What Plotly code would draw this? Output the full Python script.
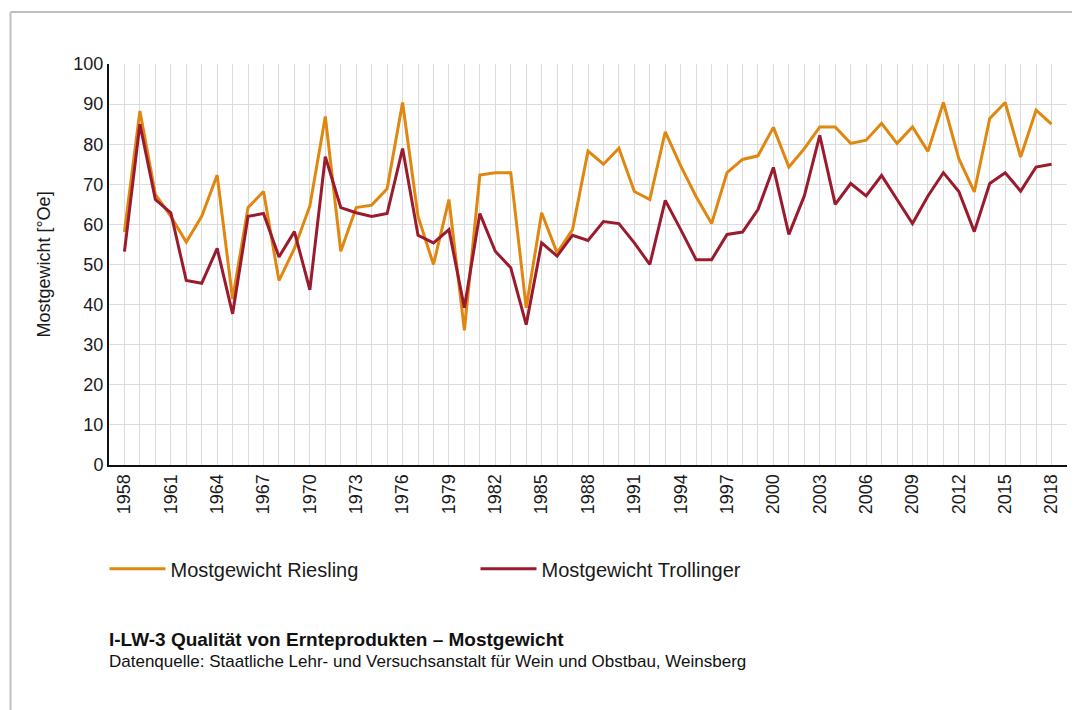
import plotly.graph_objects as go

years = list(range(1958, 2019))
riesling = [58.1, 88.3, 67.5, 62.0, 55.6, 62.0, 72.3, 41.4, 64.2, 68.2,
            46.0, 54.0, 64.6, 86.9, 53.3, 64.2, 64.8, 68.9, 90.4, 62.0,
            50.0, 66.2, 33.6, 72.3, 72.9, 72.9, 39.2, 62.9, 52.9, 58.7,
            78.3, 75.0, 79.0, 68.2, 66.2, 83.1, 74.6, 66.9, 60.2, 72.9,
            76.2, 77.1, 84.2, 74.3, 78.9, 84.3, 84.3, 80.2, 81.0, 85.2,
            80.2, 84.3, 78.2, 90.4, 76.4, 68.1, 86.4, 90.4, 76.8, 88.5,
            85.0]
trollinger = [53.2, 85.0, 66.2, 62.9, 46.0, 45.3, 54.0, 37.7, 62.0, 62.7,
              51.9, 58.2, 43.7, 76.9, 64.2, 62.9, 62.0, 62.7, 78.9, 57.3,
              55.4, 58.7, 39.2, 62.7, 53.3, 49.2, 35.0, 55.4, 52.1, 57.3,
              56.0, 60.7, 60.2, 55.4, 50.0, 66.0, 58.7, 51.2, 51.2, 57.5,
              58.1, 63.7, 74.2, 57.5, 67.1, 82.2, 65.0, 70.2, 67.1, 72.2,
              66.2, 60.2, 67.1, 72.9, 68.2, 58.2, 70.2, 72.9, 68.3, 74.3,
              75.0]
series_names = ["Mostgewicht Riesling", "Mostgewicht Trollinger"]
y_ticks = [0, 10, 20, 30, 40, 50, 60, 70, 80, 90, 100]
x_tickvals = list(range(1957, 2020))
x_ticktext = [str(y) if (y - 1958) % 3 == 0 and 1958 <= y <= 2018 else "" for y in x_tickvals]
y_title = "Mostgewicht [°Oe]"
title = "I-LW-3 Qualität von Ernteprodukten – Mostgewicht"
source = "Datenquelle: Staatliche Lehr- und Versuchsanstalt für Wein und Obstbau, Weinsberg"

ORANGE = "#E0870F"
RED = "#9A1B2E"
FONT = "Liberation Sans, Arial, sans-serif"

fig = go.Figure()
fig.add_trace(go.Scatter(x=years, y=riesling, mode="lines", name=series_names[0],
                         line=dict(color=ORANGE, width=3)))
fig.add_trace(go.Scatter(x=years, y=trollinger, mode="lines", name=series_names[1],
                         line=dict(color=RED, width=3)))

# page body has an 8px margin, so the figure is 8px smaller than the window
fig.update_layout(
    width=1072, height=702,
    margin=dict(l=101, r=13, t=56, b=245),
    plot_bgcolor="white", paper_bgcolor="white",
    font=dict(family=FONT, color="#1a1a1a", size=16),
    showlegend=True,
    legend=dict(orientation="h", x=-0.0047, xanchor="left", y=-0.259, yanchor="middle",
                entrywidth=300, entrywidthmode="pixels",
                font=dict(family=FONT, size=20, color="#1a1a1a"),
                itemwidth=56, traceorder="normal"),
    xaxis=dict(range=[1957, 2019], tickmode="array", tickvals=x_tickvals, ticktext=x_ticktext,
               tickangle=-90, showgrid=True, gridcolor="#dcdcdc", gridwidth=1,
               showline=True, linecolor="#111", linewidth=2, ticks="", zeroline=False,
               tickfont=dict(size=18, family=FONT)),
    yaxis=dict(range=[0, 100], tickmode="array", tickvals=y_ticks,
               showgrid=True, gridcolor="#dcdcdc", gridwidth=1,
               showline=True, linecolor="#111", linewidth=2, ticks="", zeroline=False,
               tickfont=dict(size=18, family=FONT),
               title=dict(text=y_title, standoff=18,
                          font=dict(size=18, family=FONT))),
)

fig.add_annotation(text="<b>" + title + "</b>", xref="paper", yref="paper",
                   x=-0.002, y=-0.436, xanchor="left", yanchor="middle", showarrow=False,
                   font=dict(family=FONT, size=19, color="#111"))
fig.add_annotation(text=source, xref="paper", yref="paper",
                   x=-0.002, y=-0.49, xanchor="left", yanchor="middle", showarrow=False,
                   font=dict(family=FONT, size=17, color="#111"))

# frame
fx0 = (2.5 - 101) / 958
fy0 = (457 - 4) / 401
fig.add_shape(type="line", xref="paper", yref="paper", x0=fx0, x1=1.2, y0=fy0, y1=fy0,
              line=dict(color="#c0c0c0", width=2))
fig.add_shape(type="line", xref="paper", yref="paper", x0=fx0, x1=fx0, y0=fy0, y1=-1,
              line=dict(color="#c0c0c0", width=2))

fig.write_html("out.html")
